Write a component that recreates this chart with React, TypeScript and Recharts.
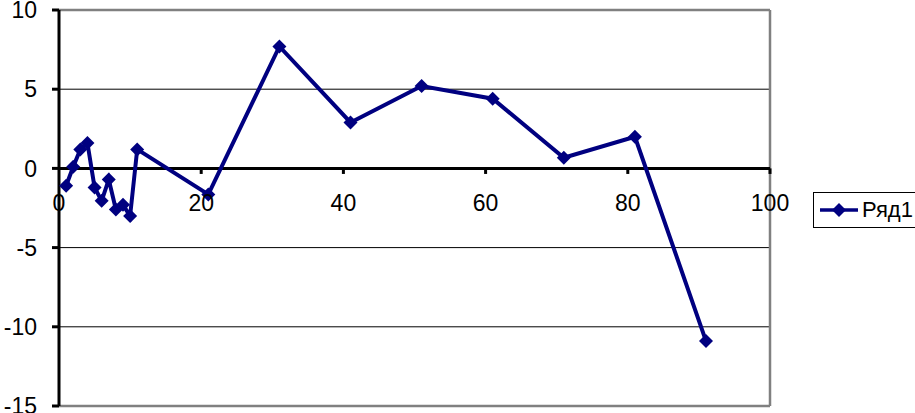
import React from "react";
import {
  LineChart,
  Line,
  XAxis,
  YAxis,
  CartesianGrid,
  ReferenceLine,
  ReferenceDot,
} from "recharts";

const xValues = [1, 2, 3, 4, 5, 6, 7, 8, 9, 10, 11, 21, 31, 41, 51, 61, 71, 81, 91];
const series1 = [-1.1, 0.1, 1.2, 1.6, -1.2, -2.05, -0.7, -2.6, -2.3, -3.0, 1.2, -1.64, 7.7, 2.9, 5.2, 4.4, 0.67, 2.0, -10.9];
const xTicks = [0, 20, 40, 60, 80, 100];
const yTicks = [-15, -10, -5, 0, 5, 10];
const seriesName = "Ряд1";

const data = xValues.map((x, i) => ({ x, y: series1[i] }));

const FONT = "'Liberation Sans', Arial, sans-serif";
const NAVY = "#000080";
const FS = 23;

const Diamond = (props: any) => {
  const { cx, cy } = props;
  if (cx == null || cy == null) return null;
  const r = 7;
  return (
    <polygon
      points={`${cx},${cy - r} ${cx + r},${cy} ${cx},${cy + r} ${cx - r},${cy}`}
      fill={NAVY}
    />
  );
};

const LegendBox = () => (
  <div
    style={{
      position: "absolute",
      left: 813,
      top: 192,
      width: 110,
      height: 34,
      border: "1px solid #000",
      borderRight: "none",
      display: "flex",
      alignItems: "center",
      fontFamily: FONT,
      fontSize: 22,
      background: "#fff",
    }}
  >
    <svg width={48} height={20}>
      <line x1={6} y1={10} x2={44} y2={10} stroke={NAVY} strokeWidth={3.5} />
      <polygon points="25,3 32,10 25,17 18,10" fill={NAVY} />
    </svg>
    <span>{seriesName}</span>
  </div>
);

export default function App() {
  return (
    <div style={{ position: "relative", width: 915, height: 413, background: "#fff", overflow: "hidden" }}>
      <style>{`body{margin:0}`}</style>
      <LineChart
        width={915}
        height={413}
        data={data}
        margin={{ top: 10, right: 145, bottom: 6, left: 0 }}
      >
        <CartesianGrid stroke="#000" strokeWidth={1} />
        <XAxis
          dataKey="x"
          type="number"
          domain={[0, 100]}
          ticks={xTicks}
          axisLine={false}
          tickLine={false}
          tick={false}
          height={1}
        />
        <YAxis
          type="number"
          domain={[-15, 10]}
          ticks={yTicks}
          interval={0}
          width={59}
          axisLine={{ stroke: "#000", strokeWidth: 3 }}
          tickLine={{ stroke: "#000", strokeWidth: 3 }}
          tickSize={7}
          tickMargin={15}
          tick={{ fill: "#000", fontSize: FS, fontFamily: FONT }}
        />
        <ReferenceLine y={10} stroke="#808080" strokeWidth={2.5} />
        <ReferenceLine y={-15} stroke="#808080" strokeWidth={2.5} />
        <ReferenceLine x={100} stroke="#808080" strokeWidth={2.5} />
        <ReferenceLine y={0} stroke="#000" strokeWidth={3} />
        {xTicks.slice(1).map((v) => (
          <ReferenceLine
            key={`t${v}`}
            segment={[
              { x: v, y: 0 },
              { x: v, y: -0.35 },
            ]}
            stroke="#000"
            strokeWidth={3}
          />
        ))}
        {xTicks.map((v) => (
          <ReferenceDot
            key={`l${v}`}
            x={v}
            y={0}
            r={0}
            stroke="none"
            fill="none"
            label={{
              value: String(v),
              position: "bottom",
              offset: 26,
              fill: "#000",
              fontSize: FS,
              fontFamily: FONT,
            }}
          />
        ))}
        <Line
          dataKey="y"
          name={seriesName}
          stroke={NAVY}
          strokeWidth={4}
          dot={<Diamond />}
          activeDot={false}
          isAnimationActive={false}
        />
      </LineChart>
      <LegendBox />
    </div>
  );
}
